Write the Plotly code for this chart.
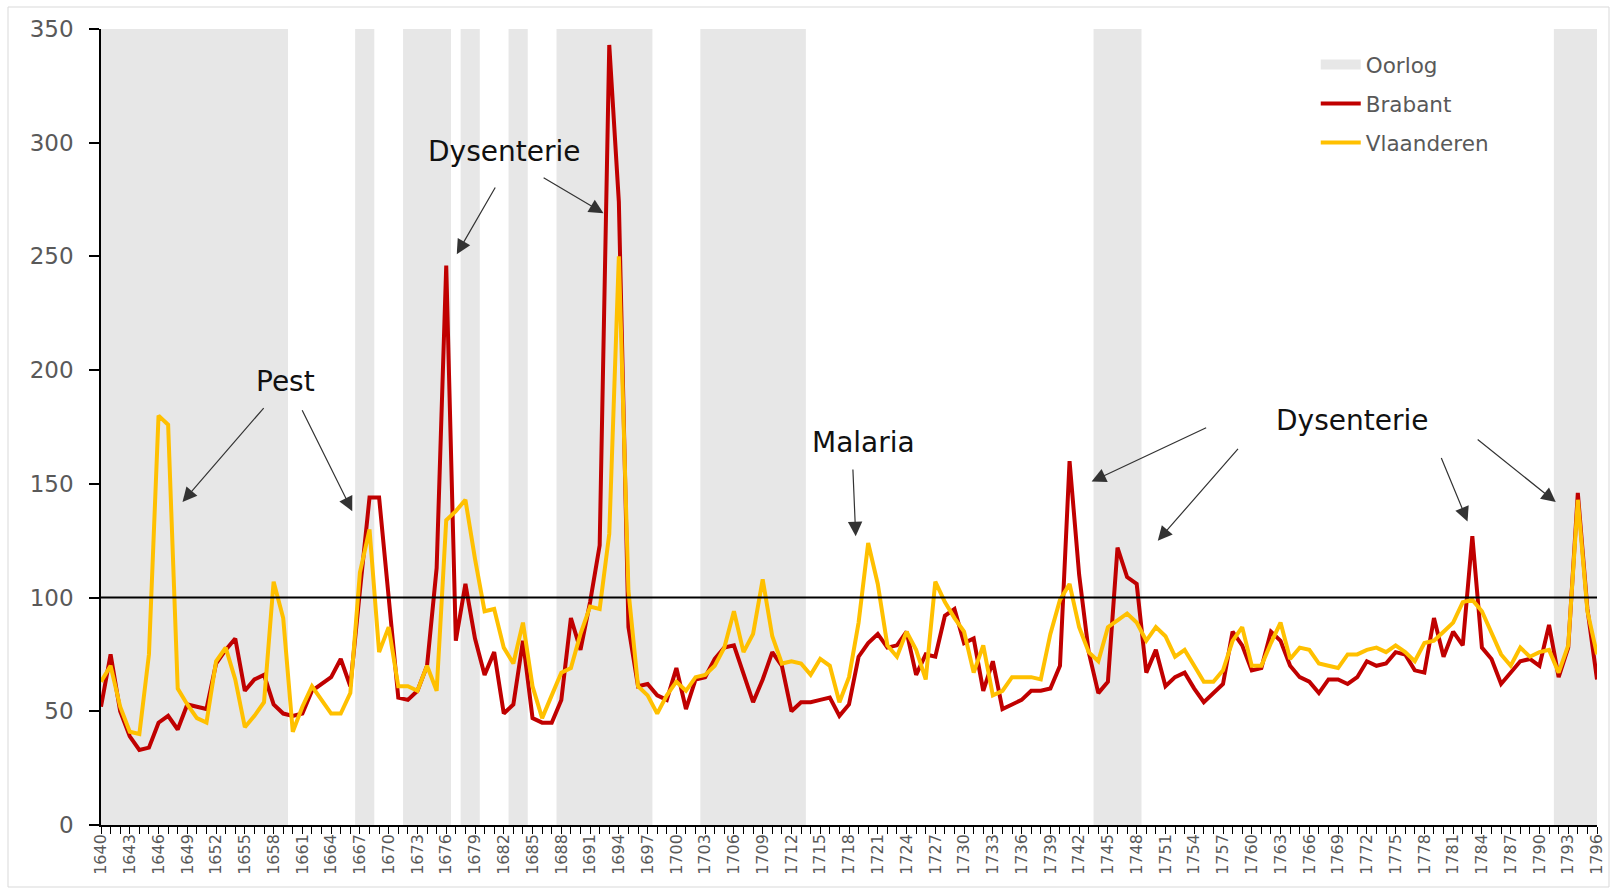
import plotly.graph_objects as go

years = list(range(1640, 1797))

brabant = [
    52, 75, 50, 39, 33, 34, 45, 48, 42, 53,      # 1640-1649
    52, 51, 71, 77, 82, 59, 64, 66, 53, 49,      # 1650-1659
    48, 49, 59, 62, 65, 73, 61, 103, 144, 144,   # 1660-1669
    99, 56, 55, 59, 70, 113, 246, 81, 106, 82,   # 1670-1679
    66, 76, 49, 53, 81, 47, 45, 45, 55, 91,      # 1680-1689
    77, 98, 123, 343, 274, 87, 61, 62, 57, 55,   # 1690-1699
    69, 51, 64, 65, 73, 78, 79, 66, 54, 64,      # 1700-1709
    76, 70, 50, 54, 54, 55, 56, 48, 53, 74,      # 1710-1719
    80, 84, 78, 79, 85, 66, 75, 74, 92, 95,      # 1720-1729
    80, 82, 59, 72, 51, 53, 55, 59, 59, 60,      # 1730-1739
    70, 160, 110, 76, 58, 63, 122, 109, 106, 67, # 1740-1749
    77, 61, 65, 67, 60, 54, 58, 62, 85, 79,      # 1750-1759
    68, 69, 85, 81, 70, 65, 63, 58, 64, 64,      # 1760-1769
    62, 65, 72, 70, 71, 76, 75, 68, 67, 91,      # 1770-1779
    74, 85, 79, 127, 78, 73, 62, 67, 72, 73,     # 1780-1789
    70, 88, 65, 78, 146, 95, 64,                 # 1790-1796
]

vlaanderen = [
    63, 70, 52, 41, 40, 75, 180, 176, 60, 53,    # 1640-1649
    47, 45, 72, 78, 64, 43, 48, 54, 107, 91,     # 1650-1659
    41, 52, 61, 55, 49, 49, 58, 111, 130, 76,    # 1660-1669
    87, 61, 61, 59, 70, 59, 134, 138, 143, 117,  # 1670-1679
    94, 95, 78, 71, 89, 61, 47, 57, 67, 69,      # 1680-1689
    84, 96, 95, 128, 250, 103, 61, 57, 49, 57,   # 1690-1699
    63, 59, 65, 66, 70, 78, 94, 76, 84, 108,     # 1700-1709
    83, 71, 72, 71, 66, 73, 70, 54, 65, 89,      # 1710-1719
    124, 106, 79, 74, 85, 77, 64, 107, 98, 91,   # 1720-1729
    85, 67, 79, 57, 59, 65, 65, 65, 64, 84,      # 1730-1739
    99, 106, 87, 76, 72, 87, 90, 93, 89, 81,     # 1740-1749
    87, 83, 74, 77, 70, 63, 63, 68, 81, 87,      # 1750-1759
    70, 70, 80, 89, 73, 78, 77, 71, 70, 69,      # 1760-1769
    75, 75, 77, 78, 76, 79, 76, 72, 80, 81,      # 1770-1779
    85, 89, 98, 99, 94, 85, 75, 70, 78, 74,      # 1780-1789
    76, 77, 67, 79, 143, 94, 75,                 # 1790-1796
]

war_start = [1640, 1667, 1672, 1678, 1683, 1688, 1703, 1744, 1792]
war_end = [1659, 1668, 1676, 1679, 1684, 1697, 1713, 1748, 1796]

tick_years = list(range(1640, 1797, 3))
tick_labels = [str(y) for y in tick_years]
y_ticks = [0, 50, 100, 150, 200, 250, 300, 350]
reference_level = 100

RED = "#C00000"
YELLOW = "#FFC000"
GREY_BAND = "#E7E7E7"
LABEL_GREY = "#595959"
FONT = "DejaVu Sans"

fig = go.Figure()

# war periods as background bands
for s, e in zip(war_start, war_end):
    fig.add_vrect(x0=s - 0.5, x1=e + 0.5, fillcolor=GREY_BAND, line_width=0,
                  layer="below", opacity=1)

# reference line at 100
fig.add_shape(type="line", xref="x", yref="y", x0=years[0], x1=years[-1],
              y0=reference_level, y1=reference_level,
              line=dict(color="black", width=2), layer="above")

# legend proxy for war bands
fig.add_trace(go.Scatter(x=[None], y=[None], mode="lines", name="Oorlog",
                         line=dict(color=GREY_BAND, width=12),
                         legendgroup="a"))
fig.add_trace(go.Scatter(x=years, y=brabant, mode="lines", name="Brabant",
                         line=dict(color=RED, width=4), legendgroup="b"))
fig.add_trace(go.Scatter(x=years, y=vlaanderen, mode="lines", name="Vlaanderen",
                         line=dict(color=YELLOW, width=4), legendgroup="c"))

# annotations: texts
texts = [
    ("Pest", 1659.2, 195),
    ("Dysenterie", 1682.0, 296),
    ("Malaria", 1719.5, 168),
    ("Dysenterie", 1770.4, 178),
]
for t, x, y in texts:
    fig.add_annotation(x=x, y=y, xref="x", yref="y", text=t, showarrow=False,
                       font=dict(family=FONT, size=28, color="#111111"),
                       xanchor="center", yanchor="middle")

# arrows: (tail_x, tail_y, head_x, head_y)
arrows = [
    (1657.1, 184, 1648.5, 142),
    (1660.9, 183, 1666.2, 138),
    (1681.2, 281, 1677.1, 251),
    (1686.0, 285, 1692.4, 269),
    (1718.4, 157, 1718.7, 127),
    (1755.4, 175, 1743.3, 151),
    (1758.7, 166, 1750.2, 125),
    (1779.7, 162, 1782.5, 133.5),
    (1783.4, 170, 1791.7, 142),
]
for tx, ty, hx, hy in arrows:
    fig.add_annotation(x=hx, y=hy, ax=tx, ay=ty, xref="x", yref="y",
                       axref="x", ayref="y", text="", showarrow=True,
                       arrowhead=2, arrowsize=2.4, arrowwidth=1.2,
                       arrowcolor="#333333", standoff=0, startstandoff=0)

# outer chart border
W, H = 1616, 893
ml, mr, mt, mb = 101, 19, 29, 68
pw, ph = W - ml - mr, H - mt - mb
fig.add_shape(type="rect", xref="paper", yref="paper",
              x0=(8 - ml) / pw, x1=(1609 - ml) / pw,
              y0=1 - (887 - mt) / ph, y1=1 - (7 - mt) / ph,
              line=dict(color="#D9D9D9", width=1), fillcolor="rgba(0,0,0,0)",
              layer="below")

fig.update_layout(
    width=W, height=H,
    margin=dict(l=ml, r=mr, t=mt, b=mb, autoexpand=False),
    paper_bgcolor="white", plot_bgcolor="white",
    showlegend=True,
    legend=dict(x=0.812, y=0.981, xanchor="left", yanchor="top",
                font=dict(family=FONT, size=21.5, color=LABEL_GREY),
                bgcolor="rgba(0,0,0,0)", traceorder="grouped",
                tracegroupgap=8, itemwidth=40),
    xaxis=dict(range=[years[0], years[-1]], tickmode="array",
               tickvals=tick_years, ticktext=tick_labels, tickangle=-90,
               ticks="outside", ticklen=7, tickcolor="black", tickwidth=1,
               showline=True, linecolor="black", linewidth=1.5,
               showgrid=False, zeroline=False, automargin=False,
               ticklabelstandoff=-6,
               tickfont=dict(family=FONT, size=16, color=LABEL_GREY),
               minor=dict(tickmode="linear", tick0=1640, dtick=1,
                          ticks="outside", ticklen=7, tickcolor="black",
                          showgrid=False)),
    yaxis=dict(range=[0, 350], tickmode="array", tickvals=y_ticks,
               ticks="outside", ticklen=10, tickcolor="black", tickwidth=1.5,
               showline=True, linecolor="black", linewidth=1.5,
               showgrid=False, zeroline=False, ticklabelstandoff=11,
               automargin=False,
               tickfont=dict(family=FONT, size=23, color=LABEL_GREY)),
)

fig.write_html("out.html",
               config={"displayModeBar": False},
               post_script="document.body.style.margin='0px';"
                           "document.body.style.overflow='hidden';")
